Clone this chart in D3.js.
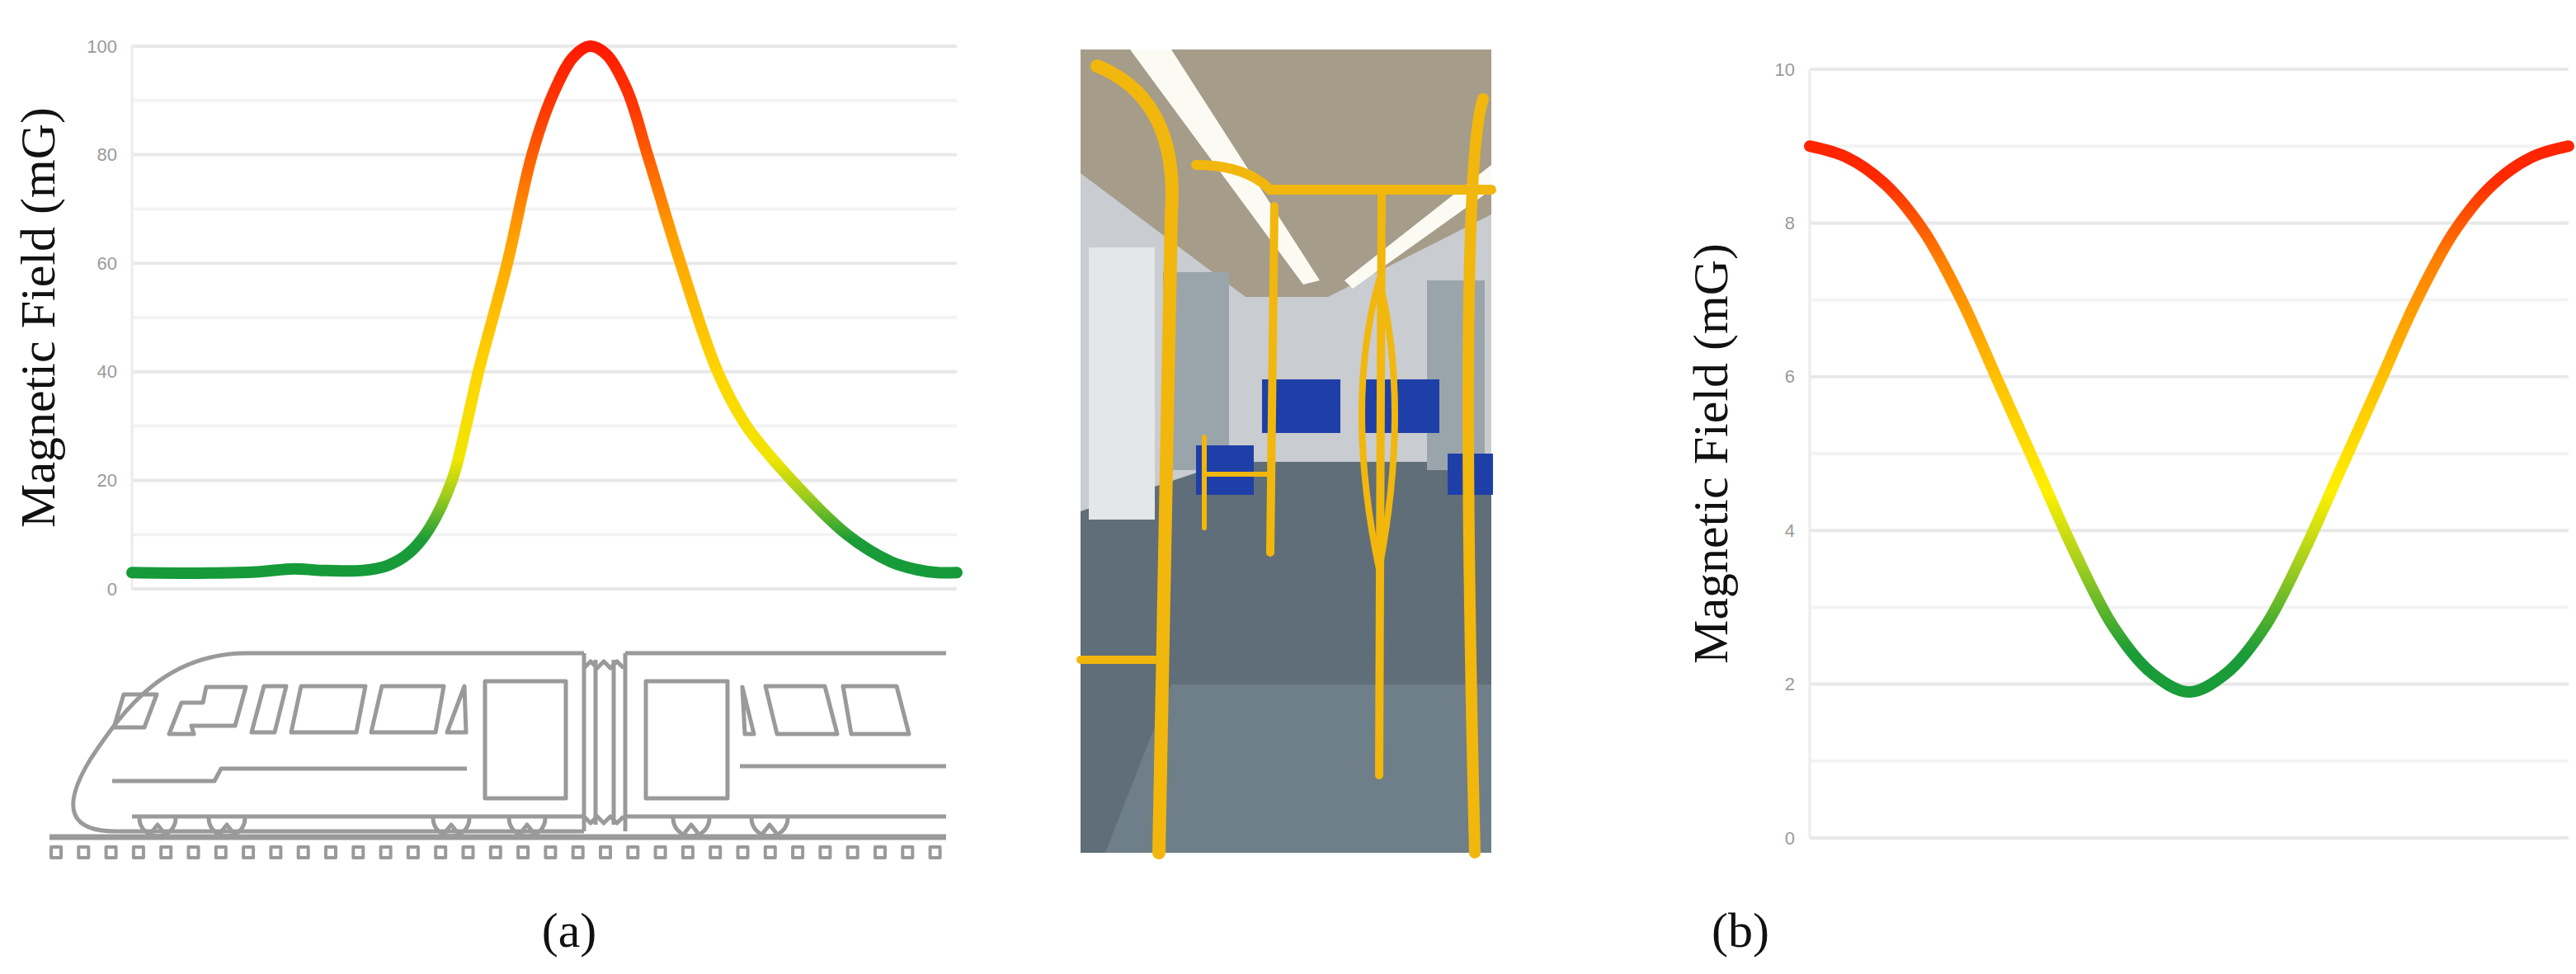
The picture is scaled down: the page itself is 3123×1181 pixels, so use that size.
<!DOCTYPE html>
<html><head><meta charset="utf-8">
<script src="https://cdn.jsdelivr.net/npm/d3@7"></script>
<style>body{margin:0;background:#fff}svg{display:block}</style>
</head><body>
<svg id="c" width="3123" height="1181"></svg>
<script>
// ---- data ----
const posA = [0,8,15,19.6,23,28,31,33.5,36,38.8,40.5,42,45.5,48.5,51,53.5,55.5,57.5,60,62.5,66.5,71,74.5,80,86.7,92,95,97.6,100];
const valA = [3,2.9,3.1,3.7,3.4,3.4,4.3,6.5,11,20,30,40,60,80,91,98,100,98.5,92,80,60,40,30,20,10,5,3.6,3,3];
const ticksA = [0,20,40,60,80,100];
const posB = [0,5,10,15,20,25,30,35,40,45,50,55,60,65,70,75,80,85,90,95,100];
const valB = [9,8.85,8.5,7.9,7,5.9,4.8,3.7,2.75,2.15,1.9,2.15,2.75,3.7,4.8,5.9,7,7.9,8.5,8.85,9];
const ticksB = [0,2,4,6,8,10];
const yLabel = "Magnetic Field (mG)";
const panelLabels = ["(a)","(b)"];

const svg = d3.select("#c");
const defs = svg.append("defs");

function panel(id, x0, x1, yTop, yBot, ymax, minorStep, pos, val, ticks, stops, labelX) {
  const x = d3.scaleLinear().domain([0,100]).range([x0,x1]);
  const y = d3.scaleLinear().domain([0,ymax]).range([yBot,yTop]);
  const g = svg.append("g");
  d3.range(0, ymax+0.001, minorStep).forEach(v=>{
    const major = ticks.includes(Math.round(v*100)/100);
    g.append("line").attr("x1",x0).attr("x2",x1).attr("y1",y(v)).attr("y2",y(v))
     .attr("stroke", major? "#e8e8e8":"#f3f3f3").attr("stroke-width",4);
  });
  g.append("line").attr("x1",x0).attr("x2",x0).attr("y1",yTop).attr("y2",yBot).attr("stroke","#ececec").attr("stroke-width",3);
  const ax = d3.axisLeft(y).tickValues(ticks).tickSize(0).tickPadding(18);
  const a = g.append("g").attr("transform",`translate(${x0},0)`).call(ax);
  a.select(".domain").remove();
  a.selectAll("text").attr("font-family","Liberation Sans, Arial").attr("font-size",22).attr("fill","#9a9a9a");
  const gr = defs.append("linearGradient").attr("id",id).attr("gradientUnits","userSpaceOnUse")
    .attr("x1",0).attr("x2",0).attr("y1",y(0)).attr("y2",y(ymax));
  stops.forEach(s=>gr.append("stop").attr("offset",s[0]/ymax).attr("stop-color",s[1]));
  const line = d3.line().x((d,i)=>x(pos[i])).y(d=>y(d)).curve(d3.curveCatmullRom.alpha(0.5));
  g.append("path").attr("d",line(val)).attr("fill","none").attr("stroke",`url(#${id})`)
    .attr("stroke-width",14).attr("stroke-linecap","round");
  g.append("text").attr("transform",`translate(${labelX},${(yTop+yBot)/2}) rotate(-90)`)
    .attr("text-anchor","middle").attr("font-family","Liberation Serif, Times New Roman, serif")
    .attr("font-size",60).attr("fill","#111").text(yLabel);
}

panel("gA",160,1160,56,714,100,10,posA,valA,ticksA,
  [[0,"#139a3a"],[9,"#1a9c38"],[17,"#9ccc1e"],[24,"#f0e600"],[40,"#ffd500"],[65,"#ffa000"],[88,"#ff3a00"],[100,"#ff1a00"]],66);
panel("gB",2194,3114,84,1016,10,1,posB,valB,ticksB,
  [[0,"#139a3a"],[2.4,"#1a9c38"],[3.6,"#a8d01e"],[4.5,"#fff000"],[6,"#ffc000"],[7.5,"#ff8000"],[8.6,"#ff2800"],[10,"#ff1a00"]],2094);

// panel labels
[[690,1148],[2110,1148]].forEach((p,i)=>svg.append("text").attr("x",p[0]).attr("y",p[1]).attr("text-anchor","middle")
  .attr("font-family","Liberation Serif, Times New Roman, serif").attr("font-size",60).attr("fill","#111").text(panelLabels[i]));

// ---- train drawing ----
const t = svg.append("g").attr("fill","none").attr("stroke","#9a9a9a").attr("stroke-width",5).attr("stroke-linejoin","round");
t.append("path").attr("d","M708,792 L300,792 C200,792 150,860 110,920 C70,985 90,1008 140,1008 L708,1008");
t.append("path").attr("d","M758,792 L1147,792 M758,990 L1147,990 M160,990 L708,990");
t.append("path").attr("d","M708,792 L708,1008 M758,792 L758,1008 M722,800 L722,1000 M744,800 L744,1000");
t.append("path").attr("d","M708,810 l8,-8 l8,8 l8,-8 l8,8 l8,-8 l8,8 M708,990 l8,8 l8,-8 l8,8 l8,-8 l8,8 l8,-8");
t.append("path").attr("d","M136,947 L260,947 L268,932 L566,932 M897,929 L1147,929");
t.append("rect").attr("x",588).attr("y",826).attr("width",98).attr("height",142);
t.append("rect").attr("x",783).attr("y",826).attr("width",99).attr("height",142);
[[[150,842],[190,842],[175,882],[138,882]],
 [[250,833],[246,852],[220,852],[205,890],[235,890],[232,880],[250,880],[285,880],[298,833]],
 [[320,832],[347,832],[333,888],[305,888]],
 [[365,832],[443,832],[432,888],[353,888]],
 [[463,832],[538,832],[528,888],[450,888]],
 [[563,832],[565,888],[542,888]],
 [[900,833],[914,890],[903,890]],
 [[928,832],[1000,832],[1015,890],[942,890]],
 [[1022,832],[1087,832],[1102,890],[1032,890]]
].forEach(p=>t.append("polygon").attr("points",p.map(q=>q.join(",")).join(" ")));
[191,275,547,639,838,933].forEach(cx=>{
  t.append("path").attr("d",`M${cx-22},992 A22,22 0 0 0 ${cx+22},992`);
  t.append("path").attr("d",`M${cx-8},1010 L${cx},1000 L${cx+8},1010`);
});
t.append("line").attr("x1",60).attr("x2",1147).attr("y1",1015).attr("y2",1015).attr("stroke-width",7);
d3.range(0,33).forEach(i=>t.append("rect").attr("x",62+i*33.3).attr("y",1027).attr("width",12).attr("height",13).attr("stroke-width",4));

// ---- photo (drawn approximation of interior) ----
const ph = svg.append("g");
const px0=1310, py0=60, pw=498, phh=974;
ph.append("rect").attr("x",px0).attr("y",py0).attr("width",pw).attr("height",phh).attr("fill","#c9ccd0");
ph.append("polygon").attr("points",`${px0},${py0} ${px0+pw},${py0} ${px0+pw},${py0+200} ${px0+300},${py0+300} ${px0+200},${py0+300} ${px0},${py0+150}`).attr("fill","#a59c8a");
ph.append("polygon").attr("points",`${px0+60},${py0} ${px0+110},${py0} ${px0+290},${py0+280} ${px0+270},${py0+285}`).attr("fill","#fbfbf4");
ph.append("polygon").attr("points",`${px0+pw},${py0+140} ${px0+pw},${py0+170} ${px0+330},${py0+290} ${px0+320},${py0+280}`).attr("fill","#fbfbf4");
ph.append("polygon").attr("points",`${px0},${py0+560} ${px0+180},${py0+500} ${px0+pw},${py0+500} ${px0+pw},${py0+phh} ${px0},${py0+phh}`).attr("fill","#5f6e78");
ph.append("polygon").attr("points",`${px0+110},${py0+770} ${px0+pw},${py0+770} ${px0+pw},${py0+phh} ${px0+30},${py0+phh}`).attr("fill","#6f7f89");
ph.append("rect").attr("x",px0+10).attr("y",py0+240).attr("width",80).attr("height",330).attr("fill","#e4e6e8");
ph.append("rect").attr("x",px0+100).attr("y",py0+270).attr("width",80).attr("height",240).attr("fill","#9aa4ab");
ph.append("rect").attr("x",px0+420).attr("y",py0+280).attr("width",70).attr("height",230).attr("fill","#9aa4ab");
[[px0+220,py0+400,95,65],[px0+340,py0+400,95,65],[px0+140,py0+480,70,60],[px0+445,py0+490,55,50]].forEach(r=>
  ph.append("rect").attr("x",r[0]).attr("y",r[1]).attr("width",r[2]).attr("height",r[3]).attr("fill","#1f3fa8"));
const Y="#f2b70d";
const pole=(d,w)=>ph.append("path").attr("d",d).attr("fill","none").attr("stroke",Y).attr("stroke-width",w).attr("stroke-linecap","round");
pole(`M${px0+20},${py0+20} Q${px0+120},${py0+60} ${px0+110},${py0+200} L${px0+95},${py0+phh}`,16);
pole(`M${px0+140},${py0+140} Q${px0+200},${py0+140} ${px0+230},${py0+170} L${px0+pw},${py0+170}`,12);
pole(`M${px0+235},${py0+190} L${px0+230},${py0+610}`,10);
pole(`M${px0+365},${py0+170} L${px0+362},${py0+880}`,10);
pole(`M${px0+362},${py0+280} Q${px0+320},${py0+430} ${px0+362},${py0+630} Q${px0+400},${py0+430} ${px0+362},${py0+280}`,8);
pole(`M${px0+pw-10},${py0+60} Q${px0+pw-40},${py0+150} ${px0+pw-20},${py0+phh}`,14);
pole(`M${px0+150},${py0+470} L${px0+150},${py0+580} M${px0+150},${py0+515} L${px0+230},${py0+515}`,6);
pole(`M${px0},${py0+740} L${px0+90},${py0+740}`,10);
</script>
</body></html>
